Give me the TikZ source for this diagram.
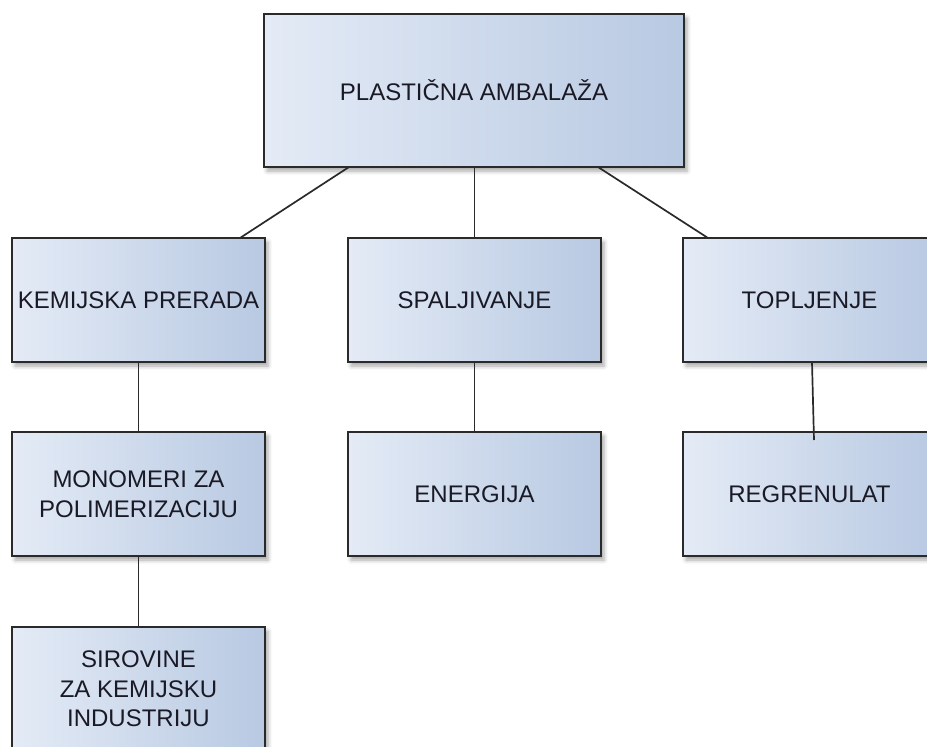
\documentclass[tikz,border=0pt]{standalone}
\usepackage{fontspec}
\setmainfont{Liberation Sans}
\usetikzlibrary{shadows.blur}
\definecolor{boxL}{HTML}{E4EBF6}
\definecolor{boxR}{HTML}{B8C9E2}
\definecolor{boxB}{HTML}{2A2A2A}
\definecolor{txt}{HTML}{1A1A26}
\begin{document}
\begin{tikzpicture}[x=1pt,y=-1pt,
  box/.style={rectangle, draw=boxB, line width=1.5pt, left color=boxL, right color=boxR,
    minimum width=253pt, minimum height=124pt, inner sep=0pt, outer sep=0pt,
    align=center, text=txt, font=\fontsize{24}{29.5}\selectfont,
    blur shadow={shadow xshift=3pt, shadow yshift=-4pt, shadow blur radius=4pt, shadow opacity=35}},
  conn/.style={draw=boxB, line width=1.7pt}]
\useasboundingbox (0,0) rectangle (927,747);
\clip (0,0) rectangle (927,747);
\node[box, minimum width=420pt, minimum height=153pt] (top) at (474,90.5) {PLASTIČNA AMBALAŽA};
\node[box] (kem) at (138.5,300) {KEMIJSKA PRERADA};
\node[box] (spal) at (474.5,300) {SPALJIVANJE};
\node[box] (topl) at (809.5,300) {TOPLJENJE};
\node[box] (mono) at (138.5,494) {MONOMERI ZA\\POLIMERIZACIJU};
\node[box] (ener) at (474.5,494) {ENERGIJA};
\node[box] (reg) at (809.5,494) {REGRENULAT};
\node[box] (sir) at (138.5,689) {SIROVINE\\ZA KEMIJSKU\\INDUSTRIJU};
\draw[conn] ([xshift=85pt]top.south west) -- ([xshift=228pt]kem.north west);
\draw[conn] (top.south -| spal.north) -- (spal.north);
\draw[conn] ([xshift=334pt]top.south west) -- ([xshift=25pt]topl.north west);
\draw[conn] (kem.south) -- (mono.north);
\draw[conn] (spal.south) -- (ener.north);
\draw[conn] ([xshift=129pt]topl.south west) -- ([xshift=131pt,yshift=-8pt]reg.north west);
\draw[conn] (mono.south) -- (sir.north);
\end{tikzpicture}
\end{document}
